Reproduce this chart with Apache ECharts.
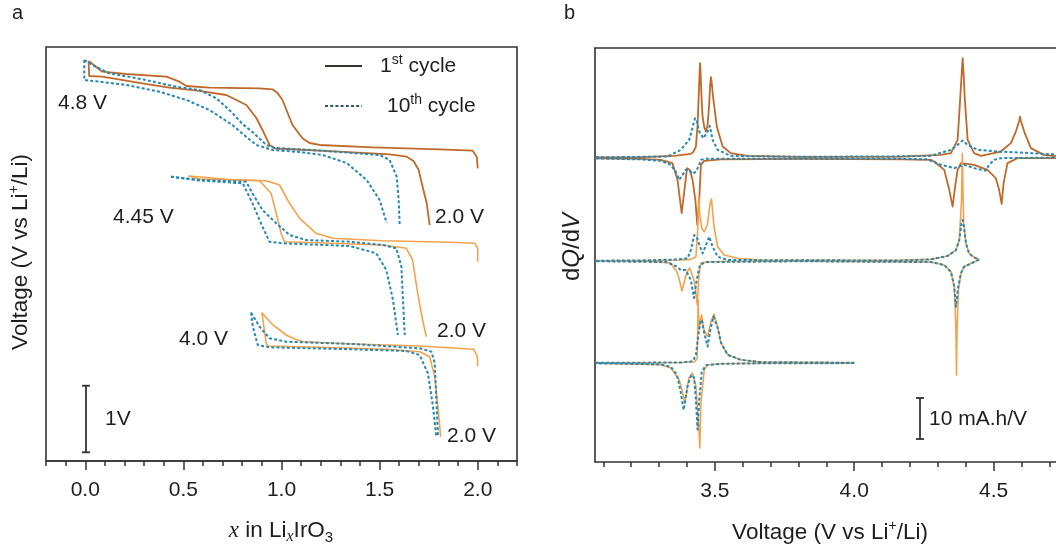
<!DOCTYPE html>
<html>
<head>
<meta charset="utf-8">
<script src="https://cdn.jsdelivr.net/npm/echarts@6.0.0/dist/echarts.min.js"></script>
<style>
  html, body { margin: 0; background: #fff; }
  #chart { width: 1056px; height: 545px; }
</style>
</head>
<body>
<div id="chart"></div>
<script>
// ---- panel a: x in LixIrO3 vs stacked voltage (no y scale, 1 unit = 1 V) ----
const a48Cy1Charge = [[2.0,4.878],[1.995,5.072],[1.974,5.172],[1.806,5.195],[1.464,5.228],[1.194,5.267],[1.143,5.3],[1.107,5.378],[1.056,5.6],[1.005,6.017],[0.98,6.133],[0.954,6.195],[0.888,6.212],[0.633,6.222],[0.515,6.25],[0.48,6.322],[0.413,6.405],[0.209,6.45],[0.087,6.488],[0.017,6.667]];
const a48Cy1Discharge = [[0.017,6.667],[0.02,6.417],[0.087,6.405],[0.291,6.295],[0.429,6.222],[0.582,6.167],[0.719,6.1],[0.821,5.933],[0.872,5.717],[0.903,5.517],[0.939,5.267],[0.969,5.208],[1.296,5.155],[1.551,5.112],[1.638,5.072],[1.673,5.0],[1.699,4.85],[1.719,4.572],[1.74,4.295],[1.755,3.933]];
const a48Cy10A = [[-0.005,6.683],[0.036,6.6],[0.122,6.462],[0.291,6.362],[0.464,6.238],[0.582,6.183],[0.668,6.045],[0.75,5.8],[0.801,5.617],[0.852,5.483],[0.923,5.267],[0.964,5.217],[1.194,5.175],[1.5,5.1],[1.551,5.017],[1.587,4.738],[1.597,4.35],[1.602,3.933]];
const a48Cy10B = [[-0.005,6.683],[-0.005,6.35],[0.071,6.322],[0.209,6.267],[0.378,6.155],[0.515,6.017],[0.633,5.85],[0.75,5.6],[0.821,5.4],[0.872,5.267],[0.954,5.183],[1.092,5.15],[1.209,5.1],[1.332,4.967],[1.434,4.683],[1.5,4.35],[1.536,3.967]];

const a445Cy1Charge = [[2.0,3.322],[2.0,3.545],[1.985,3.628],[1.857,3.645],[1.515,3.672],[1.26,3.712],[1.177,3.795],[1.092,4.045],[1.041,4.295],[0.99,4.6],[0.922,4.672],[0.735,4.692],[0.527,4.75]];
const a445Cy1Discharge = [[0.527,4.75],[0.582,4.7],[0.888,4.672],[0.947,4.462],[0.973,4.128],[0.998,3.795],[1.015,3.655],[1.177,3.638],[1.515,3.6],[1.636,3.545],[1.668,3.35],[1.694,2.795],[1.719,2.35],[1.738,2.072]];
const a445Cy10A = [[0.437,4.738],[0.582,4.683],[0.82,4.655],[0.852,4.462],[0.903,4.183],[0.973,3.962],[1.041,3.767],[1.126,3.683],[1.347,3.655],[1.515,3.6],[1.585,3.545],[1.611,3.238],[1.619,2.683],[1.628,2.1]];
const a445Cy10B = [[0.437,4.738],[0.582,4.675],[0.803,4.628],[0.852,4.295],[0.903,3.905],[0.939,3.655],[1.007,3.628],[1.347,3.583],[1.483,3.462],[1.534,3.183],[1.568,2.683],[1.593,2.1]];

const a40Cy1Charge = [[2.0,1.583],[1.998,1.738],[1.98,1.862],[1.704,1.917],[1.364,1.95],[1.109,1.988],[1.066,2.033],[1.024,2.1],[0.956,2.267],[0.9,2.472]];
const a40Cy1Discharge = [[0.9,2.472],[0.922,1.962],[0.93,1.917],[1.194,1.895],[1.534,1.862],[1.704,1.822],[1.755,1.738],[1.781,1.405],[1.797,0.905],[1.811,0.405]];
const a40Cy10A = [[0.845,2.472],[0.888,2.238],[0.939,2.045],[1.024,1.988],[1.364,1.95],[1.704,1.878],[1.764,1.822],[1.781,1.628],[1.789,1.017],[1.797,0.433]];
const a40Cy10B = [[0.845,2.472],[0.854,2.238],[0.879,1.933],[0.939,1.895],[1.364,1.862],[1.636,1.833],[1.704,1.767],[1.746,1.462],[1.772,0.905],[1.789,0.405]];

// ---- panel b: dQ/dV (mA.h/V) vs voltage, each cut-off relative to its own baseline ----
const b48Cy1Charge = [[3.073,0.12],[3.234,0.17],[3.354,0.49],[3.414,0.98],[3.423,1.46],[3.432,2.76],[3.438,8],[3.442,15],[3.4452,21],[3.447,23.1],[3.4488,21],[3.452,15],[3.456,10.07],[3.462,7.5],[3.468,6.41],[3.474,8],[3.479,12.5],[3.4835,18],[3.486,19.68],[3.4885,18.5],[3.492,16],[3.495,14.15],[3.507,7.63],[3.528,2.76],[3.557,1.15],[3.617,0.49],[3.809,0.24],[4.167,0.32],[4.311,0.73],[4.347,1.15],[4.371,4.39],[4.38,14.15],[4.386,21],[4.389,24.3],[4.392,21],[4.397,14.15],[4.407,4.39],[4.43,1.15],[4.454,0.49],[4.526,1.54],[4.562,3.59],[4.58,6.41],[4.592,9],[4.595,10.07],[4.598,9],[4.612,6.02],[4.634,2.37],[4.68,0.73],[4.741,0.32],[4.8,0.24]];
const b48Cy1Discharge = [[3.073,-0.12],[3.234,-0.24],[3.306,-0.49],[3.348,-1.29],[3.366,-5.37],[3.381,-13.49],[3.391,-7.8],[3.4,-2.51],[3.41,-2.93],[3.42,-5.37],[3.43,-10.24],[3.437,-16.34],[3.444,-10.24],[3.45,-1.71],[3.462,-0.73],[3.522,-0.37],[3.809,-0.24],[4.167,-0.37],[4.275,-0.49],[4.287,-0.9],[4.323,-2.93],[4.341,-7.8],[4.353,-11.88],[4.363,-6.59],[4.371,-2.93],[4.383,-1.29],[4.43,-1.71],[4.478,-2.93],[4.508,-4.95],[4.52,-7.8],[4.529,-11.22],[4.536,-6.17],[4.55,-1.29],[4.586,-0.07],[4.8,-0.05]];
const b48Cy10Charge = [[3.073,0.12],[3.234,0.24],[3.33,0.32],[3.378,1.95],[3.408,4.39],[3.424,8.46],[3.429,9.68],[3.435,9.02],[3.444,6.41],[3.459,4.8],[3.474,6.41],[3.482,7.8],[3.492,4.39],[3.51,1.95],[3.557,0.49],[3.809,0.24],[4.167,0.37],[4.275,0.49],[4.347,1.95],[4.371,3.17],[4.389,4.22],[4.407,3.17],[4.443,1.95],[4.514,1.54],[4.634,1.15],[4.741,0.73],[4.8,0.6]];
const b48Cy10Discharge = [[3.073,-0.12],[3.234,-0.37],[3.306,-0.73],[3.342,-1.71],[3.36,-3.41],[3.372,-5.37],[3.382,-4.39],[3.396,-2.93],[3.409,-3.05],[3.421,-3.9],[3.432,-3.34],[3.444,-1.71],[3.45,-0.49],[3.468,-0.24],[3.809,-0.24],[4.167,-0.24],[4.263,-0.37],[4.311,-1.71],[4.359,-2.51],[4.395,-1.71],[4.43,-2.51],[4.472,-3.1],[4.484,-1.71],[4.502,-0.49],[4.526,-0.07],[4.8,0.12]];

const b445Cy1Charge = [[3.073,0],[3.27,0.05],[3.378,0.17],[3.414,0.34],[3.432,0.98],[3.438,6.68],[3.442,15.78],[3.446,11.15],[3.453,7.98],[3.462,7.07],[3.473,8.71],[3.482,13.59],[3.488,15.05],[3.497,8.29],[3.51,3.41],[3.533,1.39],[3.581,0.59],[3.665,0.17],[4.167,0.1],[4.275,0.34],[4.335,1.15],[4.365,2.61],[4.377,5.05],[4.385,14.8],[4.388,26.2],[4.391,14.8],[4.393,9.12],[4.401,4.24],[4.412,1.8],[4.43,0.83],[4.448,0.29]];
const b445Cy1Discharge = [[4.448,0.29],[4.424,-0.49],[4.394,-1.46],[4.383,-3.07],[4.374,-7.15],[4.369,-16.9],[4.367,-27.9],[4.365,-16.9],[4.359,-6.34],[4.347,-2.68],[4.323,-1.05],[4.275,-0.32],[3.809,-0.12],[3.522,-0.2],[3.468,-0.32],[3.45,-0.56],[3.443,-3.49],[3.437,-10.8],[3.43,-6.66],[3.425,-4.71],[3.41,-1.78],[3.4,-2.76],[3.392,-4.71],[3.382,-7.39],[3.373,-4.71],[3.364,-2.76],[3.342,-0.56],[3.27,-0.15],[3.073,-0.07]];
const b445Cy10Charge = [[3.073,0],[3.27,0.1],[3.36,0.29],[3.402,0.59],[3.414,2.61],[3.426,6.27],[3.435,5.78],[3.446,3.59],[3.456,1.8],[3.468,3.83],[3.48,5.85],[3.492,3.41],[3.51,0.98],[3.546,0.17],[4.167,0.05],[4.275,0.34],[4.335,1.15],[4.365,2.61],[4.377,5.05],[4.385,9.12],[4.389,9.93],[4.392,9.12],[4.401,4.24],[4.412,1.8],[4.43,0.83],[4.448,0.29]];
const b445Cy10Discharge = [[4.448,0.29],[4.424,-0.49],[4.394,-1.46],[4.383,-3.07],[4.373,-6.34],[4.365,-11.2],[4.359,-6.34],[4.347,-2.68],[4.323,-1.05],[4.275,-0.32],[3.809,-0.12],[3.468,-0.32],[3.446,-1.05],[3.435,-4.71],[3.425,-9.1],[3.414,-4.71],[3.396,-2.27],[3.378,-2.27],[3.36,-1.29],[3.324,-0.32],[3.073,-0.12]];

const b40Cy1Charge = [[3.073,0],[3.378,0.07],[3.428,0.24],[3.437,1.22],[3.44,15.4],[3.443,8.05],[3.452,11.7],[3.461,8.05],[3.474,6.41],[3.486,10.0],[3.497,11.88],[3.51,8.85],[3.522,4.8],[3.546,1.95],[3.593,0.73],[3.665,0.17],[4.0,0]];
const b40Cy1Discharge = [[4.0,-0.07],[3.665,-0.12],[3.522,-0.24],[3.474,-0.49],[3.462,-1.71],[3.45,-9.76],[3.446,-20.8],[3.441,-13.9],[3.432,-5.78],[3.42,-2.51],[3.407,-3.66],[3.392,-9.83],[3.382,-6.59],[3.372,-4.15],[3.342,-1.29],[3.306,-0.49],[3.073,-0.12]];
const b40Cy10Charge = [[3.073,0],[3.378,0.07],[3.421,0.37],[3.432,1.95],[3.441,6.83],[3.448,10.0],[3.453,10.49],[3.461,7.56],[3.474,3.98],[3.484,8.05],[3.495,11.27],[3.51,8.54],[3.522,4.88],[3.546,1.95],[3.593,0.73],[3.665,0.17],[4.0,0]];
const b40Cy10Discharge = [[4.0,-0.07],[3.665,-0.12],[3.522,-0.24],[3.468,-0.61],[3.453,-2.2],[3.444,-9.02],[3.438,-16.3],[3.432,-9.02],[3.426,-3.66],[3.416,-2.93],[3.403,-5.37],[3.388,-11.5],[3.376,-6.59],[3.364,-2.93],[3.342,-0.98],[3.306,-0.37],[3.073,-0.12]];

// tick positions
const aTicksMinor = [-0.2,-0.1,0,0.1,0.2,0.3,0.4,0.5,0.6,0.7,0.8,0.9,1.0,1.1,1.2,1.3,1.4,1.5,1.6,1.7,1.8,1.9,2.0,2.1,2.2];
const aTicksMajor = [0,0.5,1.0,1.5,2.0];
const bTicksMinor = [3.1,3.2,3.3,3.4,3.5,3.6,3.7,3.8,3.9,4.0,4.1,4.2,4.3,4.4,4.5,4.6,4.7];
const bTicksMajor = [3.5,4.0,4.5];

// baselines of the stacked dQ/dV traces
const OFF_48 = 74.2, OFF_445 = 49.1, OFF_40 = 24.2;

const BROWN = '#c0692a';
const ORANGE = '#f5a24e';
const BLUE = '#2489b4';
const INK = '#1e1e1e';
const AXIS = '#333';
const SANS = '"Liberation Sans", Arial, sans-serif';
const SERIF = '"Liberation Serif", "Times New Roman", serif';

function line(data, panel, color, dashed, off) {
  return {
    type: 'line',
    xAxisIndex: panel === 0 ? 0 : 2,
    yAxisIndex: panel,
    data: off ? data.map((p) => [p[0], p[1] + off]) : data,
    symbol: 'none',
    silent: true,
    z: dashed ? 3 : 2,
    lineStyle: { color: color, width: dashed ? 2 : (color === BROWN ? 1.8 : 1.6), type: dashed ? [3, 2.2] : 'solid', join: 'round' },
  };
}

function txt(x, y, text, extra) {
  return {
    type: 'text', x: x, y: y, silent: true,
    style: Object.assign({ text: text, fill: INK, fontSize: 21, fontFamily: SANS, align: 'left', verticalAlign: 'middle' }, extra || {}),
  };
}

function seg(x1, y1, x2, y2, stroke, dash, w) {
  return { type: 'line', silent: true, shape: { x1, y1, x2, y2 }, style: { stroke: stroke || AXIS, lineWidth: w || 1.8, lineDash: dash || null } };
}

const rich = {
  n: { fontSize: 21, fontFamily: SANS, lineHeight: 26, fill: INK },
  t: { fontSize: 22.5, fontFamily: SANS, lineHeight: 28, fill: INK },
  sup: { fontSize: 14, fontFamily: SANS, lineHeight: 14, verticalAlign: 'top', fill: INK },
  sub: { fontSize: 15, fontFamily: SANS, lineHeight: 14, verticalAlign: 'bottom', fill: INK },
  ix: { fontSize: 23, fontFamily: SERIF, fontStyle: 'italic', lineHeight: 28, fill: INK },
  isub: { fontSize: 16, fontFamily: SERIF, fontStyle: 'italic', lineHeight: 14, verticalAlign: 'bottom', fill: INK },
  d: { fontSize: 24, fontFamily: SANS, lineHeight: 28, fill: INK },
  it: { fontSize: 24, fontFamily: SANS, fontStyle: 'italic', lineHeight: 28, fill: INK },
};

function xAxisPair(grid, min, max, minor, major) {
  return [
    {
      type: 'value', gridIndex: grid, min: min, max: max,
      axisLine: { show: true, onZero: false, lineStyle: { color: AXIS, width: 1.6 } },
      axisTick: { show: true, customValues: minor, length: 5, lineStyle: { color: AXIS, width: 1.5 } },
      axisLabel: { customValues: major, margin: 19, color: INK, fontSize: 21, fontFamily: SANS, formatter: (v) => v.toFixed(1) },
      splitLine: { show: false },
    },
    {
      type: 'value', gridIndex: grid, min: min, max: max, position: 'bottom',
      axisLine: { show: false },
      axisTick: { show: true, customValues: major, length: 9, lineStyle: { color: AXIS, width: 1.5 } },
      axisLabel: { show: false },
      splitLine: { show: false },
    },
  ];
}

const hiddenY = (grid, max, showLine) => ({
  type: 'value', gridIndex: grid, min: 0, max: max,
  axisLine: { show: !!showLine, onZero: false, lineStyle: { color: AXIS, width: 1.6 } },
  axisTick: { show: false }, axisLabel: { show: false }, splitLine: { show: false },
});

const chart = echarts.init(document.getElementById('chart'), null, { renderer: 'canvas' });

chart.setOption({
  animation: false,
  backgroundColor: '#fff',
  grid: [
    { left: 46, top: 47, width: 471, height: 414, show: true, borderColor: AXIS, borderWidth: 1.6, backgroundColor: 'transparent' },
    { left: 595, top: 48, width: 461, height: 414, show: false },
  ],
  xAxis: [].concat(
    xAxisPair(0, -0.2, 2.2, aTicksMinor, aTicksMajor),
    xAxisPair(1, 3.07, 4.724, bTicksMinor, bTicksMajor),
    [{
      type: 'value', gridIndex: 1, min: 3.07, max: 4.724, position: 'top',
      axisLine: { show: true, onZero: false, lineStyle: { color: AXIS, width: 1.6 } },
      axisTick: { show: false }, axisLabel: { show: false }, splitLine: { show: false },
    }]
  ),
  yAxis: [hiddenY(0, 6.9, false), hiddenY(1, 101, true)],
  series: [
    line(a48Cy1Charge, 0, BROWN, false),
    line(a48Cy1Discharge, 0, BROWN, false),
    line(a445Cy1Charge, 0, ORANGE, false),
    line(a445Cy1Discharge, 0, ORANGE, false),
    line(a40Cy1Charge, 0, ORANGE, false),
    line(a40Cy1Discharge, 0, ORANGE, false),
    line(a48Cy10A, 0, BLUE, true),
    line(a48Cy10B, 0, BLUE, true),
    line(a445Cy10A, 0, BLUE, true),
    line(a445Cy10B, 0, BLUE, true),
    line(a40Cy10A, 0, BLUE, true),
    line(a40Cy10B, 0, BLUE, true),

    line(b48Cy1Charge, 1, BROWN, false, OFF_48),
    line(b48Cy1Discharge, 1, BROWN, false, OFF_48),
    line(b445Cy1Charge, 1, ORANGE, false, OFF_445),
    line(b445Cy1Discharge, 1, ORANGE, false, OFF_445),
    line(b40Cy1Charge, 1, ORANGE, false, OFF_40),
    line(b40Cy1Discharge, 1, ORANGE, false, OFF_40),
    line(b48Cy10Charge, 1, BLUE, true, OFF_48),
    line(b48Cy10Discharge, 1, BLUE, true, OFF_48),
    line(b445Cy10Charge, 1, BLUE, true, OFF_445),
    line(b445Cy10Discharge, 1, BLUE, true, OFF_445),
    line(b40Cy10Charge, 1, BLUE, true, OFF_40),
    line(b40Cy10Discharge, 1, BLUE, true, OFF_40),
  ],
  graphic: [
    // panel letters
    txt(12, 13, 'a', { fontSize: 20 }),
    txt(564, 13, 'b', { fontSize: 20 }),

    // panel a legend
    seg(325, 66, 362, 66, '#3a3430', null, 1.8),
    seg(325, 106, 362, 106, '#2f5670', [3, 2.2], 2),
    txt(380, 66, '{n|1}{sup|st}{n| cycle}', { rich: rich }),
    txt(387, 106, '{n|10}{sup|th}{n| cycle}', { rich: rich }),

    // panel a annotations
    txt(58, 103, '4.8 V'),
    txt(113, 217, '4.45 V'),
    txt(179, 339, '4.0 V'),
    txt(435, 217, '2.0 V'),
    txt(437, 331, '2.0 V'),
    txt(447, 436, '2.0 V'),

    // 1 V scale bar
    seg(86, 385.7, 86, 452.3),
    seg(82, 385.7, 90, 385.7),
    seg(82, 452.3, 90, 452.3),
    txt(105, 419, '1V'),

    // 10 mA.h/V scale bar
    seg(920, 398, 920, 439),
    seg(916, 398, 924, 398),
    seg(916, 439, 924, 439),
    txt(929, 419, '10 mA.h/V'),

    // axis titles
    txt(281, 531, '{ix|x}{t| in Li}{isub|x}{t|IrO}{sub|3}', { align: 'center', rich: rich }),
    txt(830, 533, '{t|Voltage (V vs Li}{sup|+}{t|/Li)}', { align: 'center', rich: rich }),
    Object.assign(txt(21, 252, '{t|Voltage (V vs Li}{sup|+}{t|/Li)}', { align: 'center', rich: rich }), { rotation: Math.PI / 2 }),
    Object.assign(txt(572, 247, '{d|d}{it|Q}{d|/d}{it|V}', { align: 'center', rich: rich }), { rotation: Math.PI / 2 }),
  ],
});
</script>
</body>
</html>
